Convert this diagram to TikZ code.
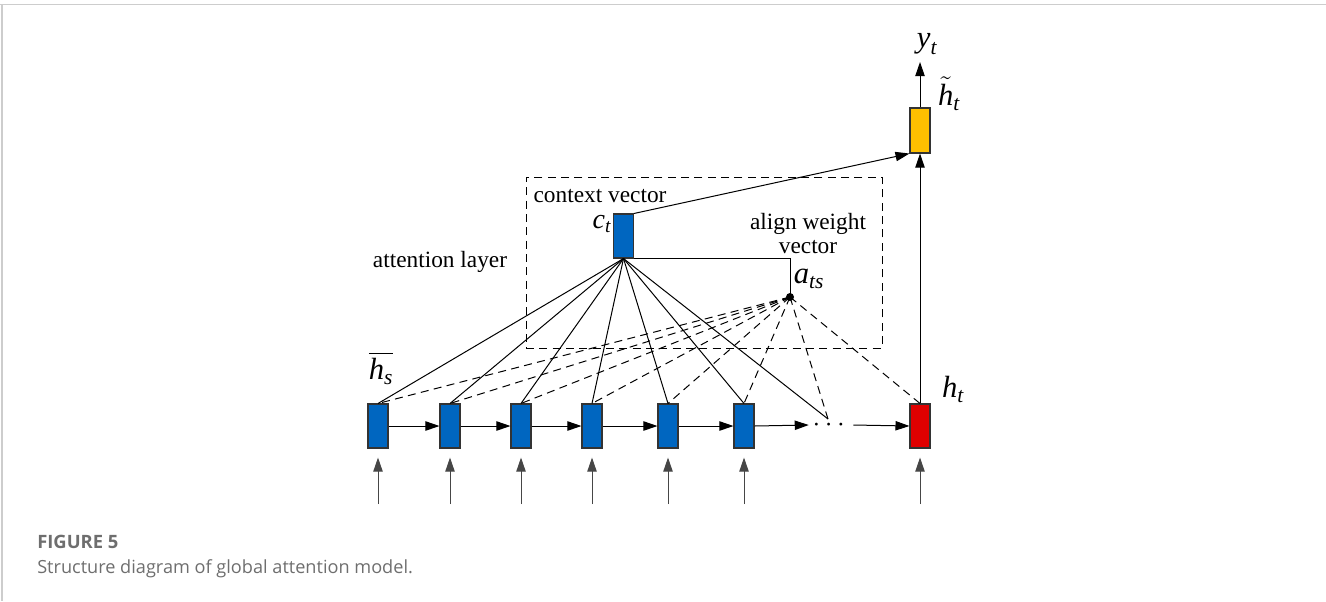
\documentclass[tikz,border=0pt]{standalone}
\usepackage{amsmath}
\usepackage{fontspec}
\setmainfont{Liberation Serif}
\newfontfamily\capfont{Open Sans}
\usetikzlibrary{arrows.meta}
\definecolor{cellblue}{RGB}{0,102,192}
\definecolor{cellred}{RGB}{224,0,0}
\definecolor{cellyellow}{RGB}{255,192,0}
\definecolor{framegray}{RGB}{205,205,205}
\definecolor{captiongray}{RGB}{110,110,110}
\definecolor{inputgray}{RGB}{70,70,70}
\begin{document}
\begin{tikzpicture}[x=0.75pt,y=-0.75pt,
  cell/.style={draw=black!80, line width=0.8pt, minimum width=15pt, minimum height=33pt, inner sep=0pt},
  link/.style={line width=0.75pt},
  weight/.style={line width=0.75pt, dash pattern=on 6pt off 4pt},
  arr/.style={line width=0.75pt, -{Triangle[length=10.5pt,width=7pt]}},
  txt/.style={font=\fontsize{17.5}{17.5}\selectfont, inner sep=0pt, anchor=base},
  sym/.style={font=\fontsize{23}{23}\selectfont, inner sep=0pt},
  capstyle/.style={text=captiongray, inner sep=0pt, anchor=base west},
]
\useasboundingbox (0,0) rectangle (1326,601);
% page frame
\draw[framegray, line width=1.2pt] (0,4.5) -- (1326,4.5);
\draw[framegray, line width=1pt] (2,4.5) -- (2,601);

% attention layer frame
\node[draw, line width=0.75pt, dash pattern=on 6pt off 4pt, minimum width=267pt, minimum height=128.25pt, inner sep=0pt] (attn) at (704,262.5) {};

% encoder cells
\foreach \i/\x in {1/378,2/450,3/521,4/592,5/668,6/744}
  \node[cell, fill=cellblue] (b\i) at (\x,426) {};
\node[cell, fill=cellred] (ht) at (920,426) {};
\node[cell, fill=cellyellow, minimum height=33.75pt] (yel) at (920,130.5) {};
\node[cell, fill=cellblue] (ct) at (623.5,236) {};
\node[minimum width=33pt, inner sep=0pt, font=\fontsize{20}{20}\selectfont] (dots) at (831,425) {$\cdots$};
\coordinate (dtop) at (828,419);
\node[circle, fill, inner sep=0pt, minimum size=6pt] (ats) at (790,297) {};

% input arrows
\foreach \i/\x in {1/378,2/450,3/521,4/592,5/668,6/744} {
  \coordinate (in\i) at (\x,504);
  \draw[arr, inputgray, shorten >=6.75pt] (in\i) -- (b\i.south);
}
\coordinate (in7) at (920,504);
\draw[arr, inputgray, shorten >=6.75pt] (in7) -- (ht.south);

% recurrent chain
\foreach \i/\j in {1/2,2/3,3/4,4/5,5/6}
  \draw[arr] (b\i.east) -- (b\j.west);
\draw[arr] (b6.east) -- (dots.west);
\draw[arr] (dots.east) -- (ht.west);

% context vector links
\foreach \i in {1,...,6}
  \draw[link] (ct.south) -- (b\i.north);
\draw[link] (ct.south) -- (dtop);

% alignment weights
\foreach \i in {1,...,6}
  \draw[weight] (ats.center) -- (b\i.north);
\draw[weight] (ats.center) -- (dtop);
\draw[weight] (ats.center) -- (ht.north);
\draw[link] (ct.south east) -| (ats.center);

% output path
\draw[arr] (ct.north east) -- (yel.south west);
\draw[arr] (ht.north) -- (yel.south);
\coordinate (ytip) at (920,62);
\draw[arr] (yel.north) -- (ytip);

% labels
\node[sym] (ylab) at (927,44) {$\textit{y}_{\textit{t}}$};
\node[sym] (htil) at (949,94) {$\tilde{\textit{h}}_{\textit{t}}$};
\node[sym] (hsbar) at (381,368) {$\overline{\textit{h}_{\textit{s}}}$};
\node[sym] (htlab) at (953,389) {$\textit{h}_{\textit{t}}$};
\node[sym, font=\fontsize{21}{21}\selectfont] (ctlab) at (602,224) {$\textit{c}_{\textit{t}}$};
\node[sym] (atslab) at (809,279) {$\textit{a}_{\textit{ts}}$};
\node[txt] (cvtxt) at (600,202) {context vector};
\node[txt] (awtxt) at (808,229) {align weight};
\node[txt] (avtxt) at (808,253) {vector};
\node[txt] (altxt) at (440,267) {attention layer};

% caption
\node[capstyle, font=\capfont\bfseries\fontsize{13.8}{13.8}\selectfont] (figno) at (37,548) {FIGURE 5};
\node[capstyle, font=\capfont\fontsize{13.6}{13.6}\selectfont] (captxt) at (37,573) {Structure diagram of global attention model.};
\end{tikzpicture}
\end{document}
